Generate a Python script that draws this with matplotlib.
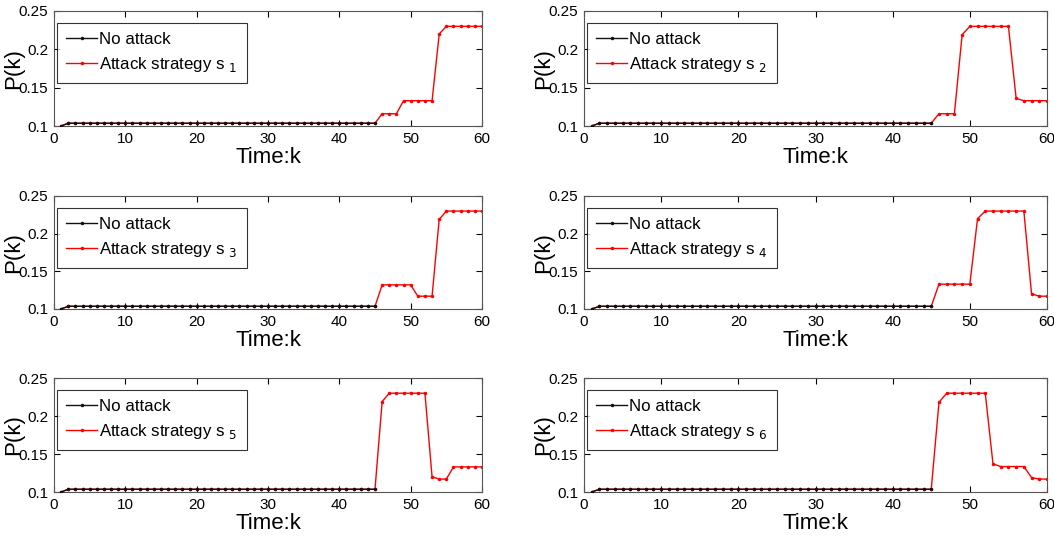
import matplotlib
matplotlib.use("Agg")
import matplotlib.pyplot as plt

plt.rcParams['font.family'] = ['Liberation Sans', 'DejaVu Sans']

# time steps
k = list(range(1, 61))

# no attack: value at k=1 then flat (drawn up to k=45)
no_attack = [0.1] + [0.1036] * 44

# values for k = 46..60 under each attack strategy (before that identical to no attack)
tail_s1 = [0.116, 0.116, 0.116, 0.133, 0.133, 0.133, 0.133, 0.133, 0.22, 0.23, 0.23, 0.23, 0.23, 0.23, 0.23]
tail_s2 = [0.116, 0.116, 0.116, 0.219, 0.23, 0.23, 0.23, 0.23, 0.23, 0.23, 0.136, 0.133, 0.133, 0.133, 0.133]
tail_s3 = [0.132, 0.132, 0.132, 0.132, 0.132, 0.117, 0.117, 0.117, 0.219, 0.23, 0.23, 0.23, 0.23, 0.23, 0.23]
tail_s4 = [0.133, 0.133, 0.133, 0.133, 0.133, 0.22, 0.23, 0.23, 0.23, 0.23, 0.23, 0.23, 0.12, 0.117, 0.117]
tail_s5 = [0.219, 0.23, 0.23, 0.23, 0.23, 0.23, 0.23, 0.12, 0.117, 0.117, 0.133, 0.133, 0.133, 0.133, 0.133]
tail_s6 = [0.218, 0.23, 0.23, 0.23, 0.23, 0.23, 0.23, 0.137, 0.1335, 0.1335, 0.1335, 0.1335, 0.119, 0.117, 0.117]
tails = [tail_s1, tail_s2, tail_s3, tail_s4, tail_s5, tail_s6]

xticks = [0, 10, 20, 30, 40, 50, 60]
yticks = [0.1, 0.15, 0.2, 0.25]
ytick_labels = ['0.1', '0.15', '0.2', '0.25']

W, H = 1054, 544
fig = plt.figure(figsize=(W / 100, H / 100), dpi=100)

# axes boxes in pixels: left, right, top, bottom
cols = [(54, 482), (584, 1047)]
rows = [(11, 126), (196, 309), (378, 492)]

for i, tail in enumerate(tails):
    r, c = divmod(i, 2)
    x0, x1 = cols[c]
    y0, y1 = rows[r]
    ax = fig.add_axes([x0 / W, 1 - y1 / H, (x1 - x0) / W, (y1 - y0) / H])
    attack = no_attack + tail
    ax.plot(k[:len(no_attack)], no_attack, color='#111111', lw=1, marker='.', ms=3, zorder=3,
            label='No attack')
    ax.plot(k, attack, color='red', lw=1, marker='.', ms=3, zorder=2,
            label='Attack strategy s $_{%d}$' % (i + 1))
    ax.set_xlim(0, 60)
    ax.set_ylim(0.1, 0.25)
    ax.set_xticks(xticks)
    ax.set_yticks(yticks)
    ax.set_yticklabels(ytick_labels)
    ax.tick_params(direction='in', top=True, right=True, labelsize=11, length=4, pad=4)
    for s in ax.spines.values():
        s.set_linewidth(0.8)
        s.set_color('#555555')
    ax.set_xlabel('Time:k', fontsize=16, labelpad=1)
    ax.set_ylabel('P(k)', fontsize=16, labelpad=-4)
    leg = ax.legend(loc='upper left', fontsize=12.2, frameon=True, fancybox=False,
                    edgecolor='black', handlelength=1.8, handletextpad=0.15,
                    borderpad=0.55, labelspacing=0.45, borderaxespad=0,
                    bbox_to_anchor=((x0 + 3) / W, 1 - (y0 + 12) / H),
                    bbox_transform=fig.transFigure)
    leg.get_frame().set_linewidth(0.8)

fig.savefig('out.png', dpi=100)
